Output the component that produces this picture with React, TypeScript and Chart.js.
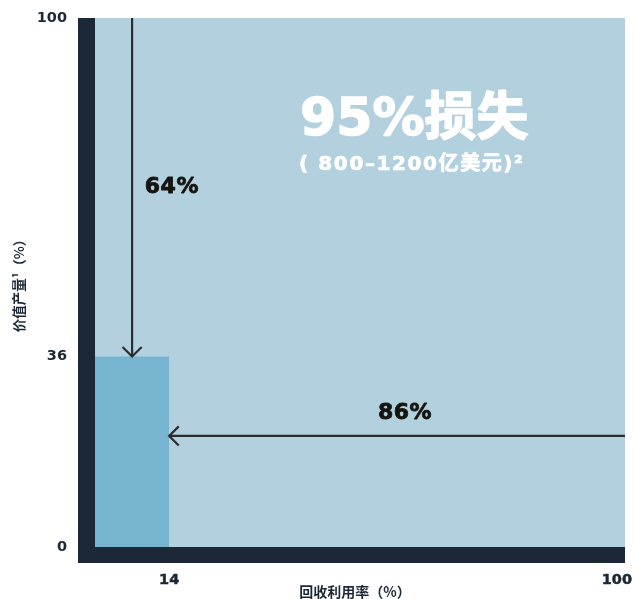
import React, { useEffect, useRef } from 'react';
import { Chart, registerables } from 'chart.js';

Chart.register(...registerables);

// ---- data ----
const xTickValues = [14, 100];
const yTickValues = [0, 36, 100];
const plotAreaX = [0, 100];
const plotAreaY = [100, 100];
const recoveredBarX = [0, 14];
const recoveredBarY = [36, 36];
const downArrowX = [7, 7];
const downArrowY = [100, 36];
const leftArrowX = [100, 14];
const leftArrowY = [21, 21];

const xTitle = '回收利用率（%）';
const yTitle = '价值产量¹（%）';
const lossTitle = '95%损失';
const lossSubtitle = '( 800–1200亿美元)²';
const downLabel = '64%';
const leftLabel = '86%';

// ---- styles ----
const NAVY = '#1c2836';
const LIGHT = '#b3d0de';
const BAR = '#76b4cf';
const ARROW = '#2d2d2d';
const FONT = "'DejaVu Sans', 'Noto Sans CJK SC', sans-serif";
const CJK_FONT = "'Noto Sans CJK SC', 'DejaVu Sans', sans-serif";

const toPoints = (xs: number[], ys: number[]) => xs.map((x, i) => ({ x, y: ys[i] }));

function heavyText(ctx: CanvasRenderingContext2D, text: string, x: number, y: number, stroke: number) {
  ctx.fillText(text, x, y);
  if (stroke > 0) {
    ctx.lineWidth = stroke;
    ctx.strokeStyle = ctx.fillStyle as string;
    ctx.lineJoin = 'round';
    ctx.strokeText(text, x, y);
  }
}

const overlayPlugin = {
  id: 'overlay',
  beforeDatasetsDraw(chart: any) {
    const { ctx, chartArea: a } = chart;
    ctx.save();
    ctx.fillStyle = NAVY;
    ctx.fillRect(a.left - 17, a.top, 17, a.bottom - a.top + 16);
    ctx.fillRect(a.left - 17, a.bottom, a.right - a.left + 17, 16);
    ctx.restore();
  },
  afterDatasetsDraw(chart: any) {
    const { ctx, chartArea: a } = chart;
    const xs = chart.scales.x;
    const ys = chart.scales.y;
    ctx.save();

    // arrowheads
    const heads = [
      [downArrowX, downArrowY],
      [leftArrowX, leftArrowY],
    ];
    ctx.strokeStyle = ARROW;
    ctx.lineWidth = 2.2;
    ctx.lineCap = 'butt';
    heads.forEach(([ax, ay]) => {
      const n = ax.length;
      const tx = xs.getPixelForValue(ax[n - 1]);
      const ty = ys.getPixelForValue(ay[n - 1]);
      const px = xs.getPixelForValue(ax[n - 2]);
      const py = ys.getPixelForValue(ay[n - 2]);
      const ang = Math.atan2(ty - py, tx - px);
      const L = 13.5;
      ctx.beginPath();
      ctx.moveTo(tx - L * Math.cos(ang - Math.PI / 4), ty - L * Math.sin(ang - Math.PI / 4));
      ctx.lineTo(tx, ty);
      ctx.lineTo(tx - L * Math.cos(ang + Math.PI / 4), ty - L * Math.sin(ang + Math.PI / 4));
      ctx.stroke();
    });

    // arrow labels
    ctx.fillStyle = '#15140f';
    ctx.textAlign = 'center';
    ctx.textBaseline = 'middle';
    ctx.font = `bold 22px ${FONT}`;
    (ctx as any).letterSpacing = '0.5px';
    heavyText(ctx, downLabel, xs.getPixelForValue(14.5), ys.getPixelForValue(68), 0.8);
    heavyText(ctx, leftLabel, xs.getPixelForValue(58.5), ys.getPixelForValue(25.3), 0.8);

    // loss titles
    ctx.fillStyle = '#ffffff';
    ctx.textAlign = 'left';
    (ctx as any).letterSpacing = '0px';
    ctx.font = `bold 52px ${FONT}`;
    heavyText(ctx, lossTitle, xs.getPixelForValue(38.7), ys.getPixelForValue(80.5), 1.5);
    ctx.font = `bold 20px ${FONT}`;
    (ctx as any).letterSpacing = '1.6px';
    heavyText(ctx, lossSubtitle, xs.getPixelForValue(38.5), ys.getPixelForValue(72.2), 0.7);
    (ctx as any).letterSpacing = '0px';

    // x tick labels
    ctx.fillStyle = NAVY;
    ctx.textAlign = 'center';
    ctx.font = `bold 14.5px ${FONT}`;
    xTickValues.forEach((v) => {
      const label = String(v);
      const w = ctx.measureText(label).width;
      const px = Math.min(xs.getPixelForValue(v), chart.width - w / 2 - 3);
      heavyText(ctx, label, px, a.bottom + 33, 0.5);
    });

    // axis titles
    ctx.font = `bold 14px ${CJK_FONT}`;
    ctx.fillText(xTitle, (a.left + a.right) / 2 - 5, a.bottom + 45);
    ctx.translate(19, (a.top + a.bottom) / 2);
    ctx.rotate(-Math.PI / 2);
    ctx.font = `bold 13.5px ${CJK_FONT}`;
    ctx.fillText(yTitle, 0, 0);

    ctx.restore();
  },
};

export default function App() {
  const ref = useRef<HTMLCanvasElement>(null);

  useEffect(() => {
    if (!ref.current) return;
    const chart = new Chart(ref.current, {
      type: 'line',
      data: {
        datasets: [
          {
            data: toPoints(downArrowX, downArrowY),
            borderColor: ARROW,
            borderWidth: 2.2,
            pointRadius: 0,
            fill: false,
          },
          {
            data: toPoints(leftArrowX, leftArrowY),
            borderColor: ARROW,
            borderWidth: 2.2,
            pointRadius: 0,
            fill: false,
          },
          {
            data: toPoints(recoveredBarX, recoveredBarY),
            borderWidth: 0,
            borderColor: BAR,
            backgroundColor: BAR,
            pointRadius: 0,
            fill: 'origin',
          },
          {
            data: toPoints(plotAreaX, plotAreaY),
            borderWidth: 0,
            borderColor: LIGHT,
            backgroundColor: LIGHT,
            pointRadius: 0,
            fill: 'origin',
          },
        ],
      },
      options: {
        animation: false,
        responsive: false,
        layout: { padding: { top: 18, right: 10, left: 0, bottom: 0 } },
        plugins: { legend: { display: false }, tooltip: { enabled: false } },
        scales: {
          x: {
            type: 'linear',
            min: 0,
            max: 100,
            grid: { display: false },
            border: { display: false },
            ticks: { display: false },
            afterFit: (s: any) => {
              s.height = 52;
              s.paddingLeft = 0;
              s.paddingRight = 0;
            },
          },
          y: {
            type: 'linear',
            min: 0,
            max: 100,
            grid: { display: false, drawTicks: false },
            border: { display: false },
            afterBuildTicks: (s: any) => {
              s.ticks = yTickValues.map((v) => ({ value: v }));
            },
            ticks: {
              color: NAVY,
              padding: 28,
              font: { family: FONT, size: 14.5, weight: 'bold' as any },
              callback: (v: any) => String(v),
            },
            afterFit: (s: any) => {
              s.width = 95;
              s.paddingTop = 0;
              s.paddingBottom = 0;
            },
          },
        },
      },
      plugins: [overlayPlugin],
    });
    return () => chart.destroy();
  }, []);

  return (
    <div style={{ position: 'fixed', left: 0, top: 0, width: 635, height: 599, background: '#fff' }}>
      <canvas ref={ref} width={635} height={599} style={{ display: 'block' }} />
    </div>
  );
}
